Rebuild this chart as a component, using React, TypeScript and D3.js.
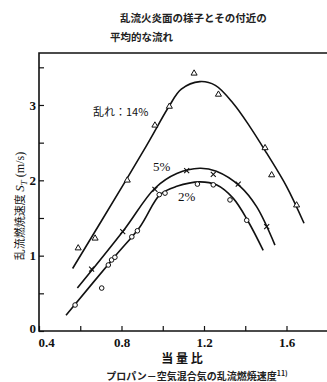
import React, { useRef, useEffect } from 'react';
import * as d3 from 'd3';

// 当量比 vs 乱流燃焼速度
interface Pt { x: number; y: number; }

const turb14Marks: Pt[] = [
  { x: 0.59, y: 1.10 }, { x: 0.672, y: 1.23 }, { x: 0.828, y: 2.0 }, { x: 0.962, y: 2.73 },
  { x: 1.032, y: 2.98 }, { x: 1.152, y: 3.42 }, { x: 1.27, y: 3.14 }, { x: 1.496, y: 2.43 },
  { x: 1.528, y: 2.07 }, { x: 1.649, y: 1.67 },
];
const turb5Marks: Pt[] = [
  { x: 0.655, y: 0.82 }, { x: 0.806, y: 1.32 }, { x: 0.962, y: 1.88 }, { x: 1.116, y: 2.13 },
  { x: 1.245, y: 2.08 }, { x: 1.366, y: 1.95 }, { x: 1.504, y: 1.385 },
];
const turb2Marks: Pt[] = [
  { x: 0.575, y: 0.345 }, { x: 0.704, y: 0.57 }, { x: 0.736, y: 0.876 }, { x: 0.752, y: 0.943 },
  { x: 0.768, y: 0.979 }, { x: 0.85, y: 1.25 }, { x: 0.877, y: 1.33 }, { x: 0.983, y: 1.81 },
  { x: 1.011, y: 1.83 }, { x: 1.168, y: 1.95 }, { x: 1.245, y: 1.94 }, { x: 1.326, y: 1.74 },
  { x: 1.407, y: 1.47 },
];

// hand-drawn fitted curves
const turb14Curve: Pt[] = [
  { x: 0.563, y: 0.83 }, { x: 0.817, y: 1.98 }, { x: 0.938, y: 2.54 }, { x: 1.03, y: 2.98 },
  { x: 1.09, y: 3.21 }, { x: 1.18, y: 3.31 }, { x: 1.255, y: 3.26 }, { x: 1.342, y: 3.02 },
  { x: 1.423, y: 2.71 }, { x: 1.504, y: 2.36 }, { x: 1.60, y: 1.92 }, { x: 1.685, y: 1.43 },
];
const turb5Curve: Pt[] = [
  { x: 0.586, y: 0.57 }, { x: 0.809, y: 1.33 }, { x: 0.962, y: 1.895 }, { x: 1.068, y: 2.09 },
  { x: 1.18, y: 2.16 }, { x: 1.26, y: 2.12 }, { x: 1.375, y: 1.92 }, { x: 1.455, y: 1.65 },
  { x: 1.544, y: 1.14 },
];
const turb2Curve: Pt[] = [
  { x: 0.531, y: 0.21 }, { x: 0.768, y: 0.99 }, { x: 0.89, y: 1.385 }, { x: 0.987, y: 1.81 },
  { x: 1.068, y: 1.92 }, { x: 1.18, y: 1.98 }, { x: 1.26, y: 1.94 }, { x: 1.342, y: 1.76 },
  { x: 1.415, y: 1.45 }, { x: 1.487, y: 1.07 },
];

const xTicks = [0.4, 0.6, 0.8, 1.0, 1.2, 1.4, 1.6];
const xLabels = [0.4, 0.8, 1.2, 1.6];
const yTicks = [0, 0.5, 1, 1.5, 2, 2.5, 3, 3.5];
const yLabels = [0, 1, 2, 3];

const titleLines = ['乱流火炎面の様子とその付近の', '平均的な流れ'];
const xTitle = '当 量 比';
const yTitle = '乱流燃焼速度 ';
const caption = 'プロパン－空気混合気の乱流燃焼速度';

const JP = '"Noto Sans CJK JP", sans-serif';
const SERIF = '"Liberation Serif", "DejaVu Serif", serif';

const App: React.FC = () => {
  const svgRef = useRef<SVGSVGElement>(null);

  useEffect(() => {
    if (!svgRef.current) return;
    const svg = d3.select(svgRef.current);
    svg.selectAll('*').remove();

    const x = d3.scaleLinear().domain([0.4, 1.8]).range([39, 327.75]);
    const y = d3.scaleLinear().domain([0, 3.69]).range([331, 53]);

    // frame: top, left, bottom
    svg.append('path')
      .attr('d', `M327,${y(3.69)}H${x(0.4)}V${y(0)}H327`)
      .attr('fill', 'none')
      .attr('stroke', '#111')
      .attr('stroke-width', 1.6);

    // x axis ticks (pointing inward)
    const xAxis = svg.append('g')
      .attr('transform', `translate(0,${y(0)})`)
      .call(d3.axisBottom(x).tickValues(xTicks).tickSize(-5)
        .tickFormat(d => (xLabels.includes(+d) ? d3.format('.1f')(+d) : '')));
    xAxis.select('.domain').remove();
    xAxis.selectAll('line').attr('stroke', '#111').attr('stroke-width', 1.2);
    xAxis.selectAll('text')
      .attr('y', 7)
      .attr('x', (d: any) => (+d === 0.4 ? 7 : 0))
      .style('font-family', SERIF)
      .style('font-size', '13px')
      .style('font-weight', 'bold')
      .style('fill', '#111');

    const yAxis = svg.append('g')
      .attr('transform', `translate(${x(0.4)},0)`)
      .call(d3.axisLeft(y).tickValues(yTicks).tickSize(-5)
        .tickFormat(d => (yLabels.includes(+d) ? String(d) : '')));
    yAxis.select('.domain').remove();
    yAxis.selectAll('line').attr('stroke', '#111').attr('stroke-width', 1.2);
    yAxis.selectAll('text')
      .attr('x', -3)
      .attr('y', (d: any) => (+d === 0 ? -3 : 0))
      .style('font-family', SERIF)
      .style('font-size', '13px')
      .style('font-weight', 'bold')
      .style('fill', '#111');

    // curves
    const line = d3.line<Pt>()
      .x(d => x(d.x))
      .y(d => y(d.y))
      .curve(d3.curveCatmullRom.alpha(0.5));

    [turb14Curve, turb5Curve, turb2Curve].forEach(c => {
      svg.append('path')
        .datum(c)
        .attr('fill', 'none')
        .attr('stroke', '#111')
        .attr('stroke-width', 1.6)
        .attr('d', line);
    });

    // markers
    const tri = d3.symbol().type(d3.symbolTriangle).size(16);
    svg.append('g').selectAll('path')
      .data(turb14Marks)
      .enter().append('path')
      .attr('transform', d => `translate(${x(d.x)},${y(d.y)})`)
      .attr('d', tri)
      .attr('fill', 'white')
      .attr('stroke', '#111')
      .attr('stroke-width', 1);

    const cross = d3.symbol().type(d3.symbolX).size(18);
    svg.append('g').selectAll('path')
      .data(turb5Marks)
      .enter().append('path')
      .attr('transform', d => `translate(${x(d.x)},${y(d.y)})`)
      .attr('d', cross)
      .attr('fill', 'none')
      .attr('stroke', '#111')
      .attr('stroke-width', 1.1);

    svg.append('g').selectAll('circle')
      .data(turb2Marks)
      .enter().append('circle')
      .attr('cx', d => x(d.x))
      .attr('cy', d => y(d.y))
      .attr('r', 2.3)
      .attr('fill', 'white')
      .attr('stroke', '#111')
      .attr('stroke-width', 1);

    // series labels
    svg.append('text')
      .attr('x', 93).attr('y', 116)
      .style('font-family', JP).style('font-size', '11px').style('fill', '#111')
      .text('乱れ：14%');
    svg.append('text')
      .attr('x', 153).attr('y', 171)
      .style('font-family', SERIF).style('font-size', '13px').style('fill', '#111')
      .text('5%');
    svg.append('text')
      .attr('x', 178).attr('y', 201)
      .style('font-family', SERIF).style('font-size', '13px').style('fill', '#111')
      .text('2%');

    // title
    svg.append('text')
      .attr('x', 120).attr('y', 22)
      .style('font-family', JP).style('font-size', '10.5px').style('font-weight', 'bold').style('fill', '#222')
      .text(titleLines[0]);
    svg.append('text')
      .attr('x', 110).attr('y', 41)
      .style('font-family', JP).style('font-size', '10.5px').style('font-weight', 'bold').style('fill', '#222')
      .text(titleLines[1]);

    // y title (rotated)
    const yt = svg.append('text')
      .attr('transform', 'translate(24,206) rotate(-90)')
      .attr('text-anchor', 'middle')
      .style('font-family', JP).style('font-size', '11px').style('fill', '#111');
    yt.append('tspan').text(yTitle);
    yt.append('tspan').style('font-family', SERIF).style('font-style', 'italic').style('font-size', '13px').text('S');
    yt.append('tspan').attr('dy', 3).style('font-family', SERIF).style('font-style', 'italic').style('font-size', '9px').text('T');
    yt.append('tspan').attr('dy', -3).style('font-family', SERIF).style('font-size', '12px').text(' (m/s)');

    // x title
    svg.append('text')
      .attr('x', 182).attr('y', 363)
      .attr('text-anchor', 'middle')
      .style('font-family', JP).style('font-size', '12px').style('font-weight', 'bold').style('fill', '#111')
      .text(xTitle);

    // caption
    const cap = svg.append('text')
      .attr('x', 197).attr('y', 380)
      .attr('text-anchor', 'middle')
      .style('font-family', JP).style('font-size', '10px').style('font-weight', 'bold').style('fill', '#222');
    cap.append('tspan').text(caption);
    cap.append('tspan').attr('dy', -4).style('font-size', '7px').text('11)');
  }, []);

  return (
    <svg ref={svgRef} width={327} height={382}
      style={{ position: 'absolute', left: 0, top: 0, background: 'white' }} />
  );
};

export default App;
